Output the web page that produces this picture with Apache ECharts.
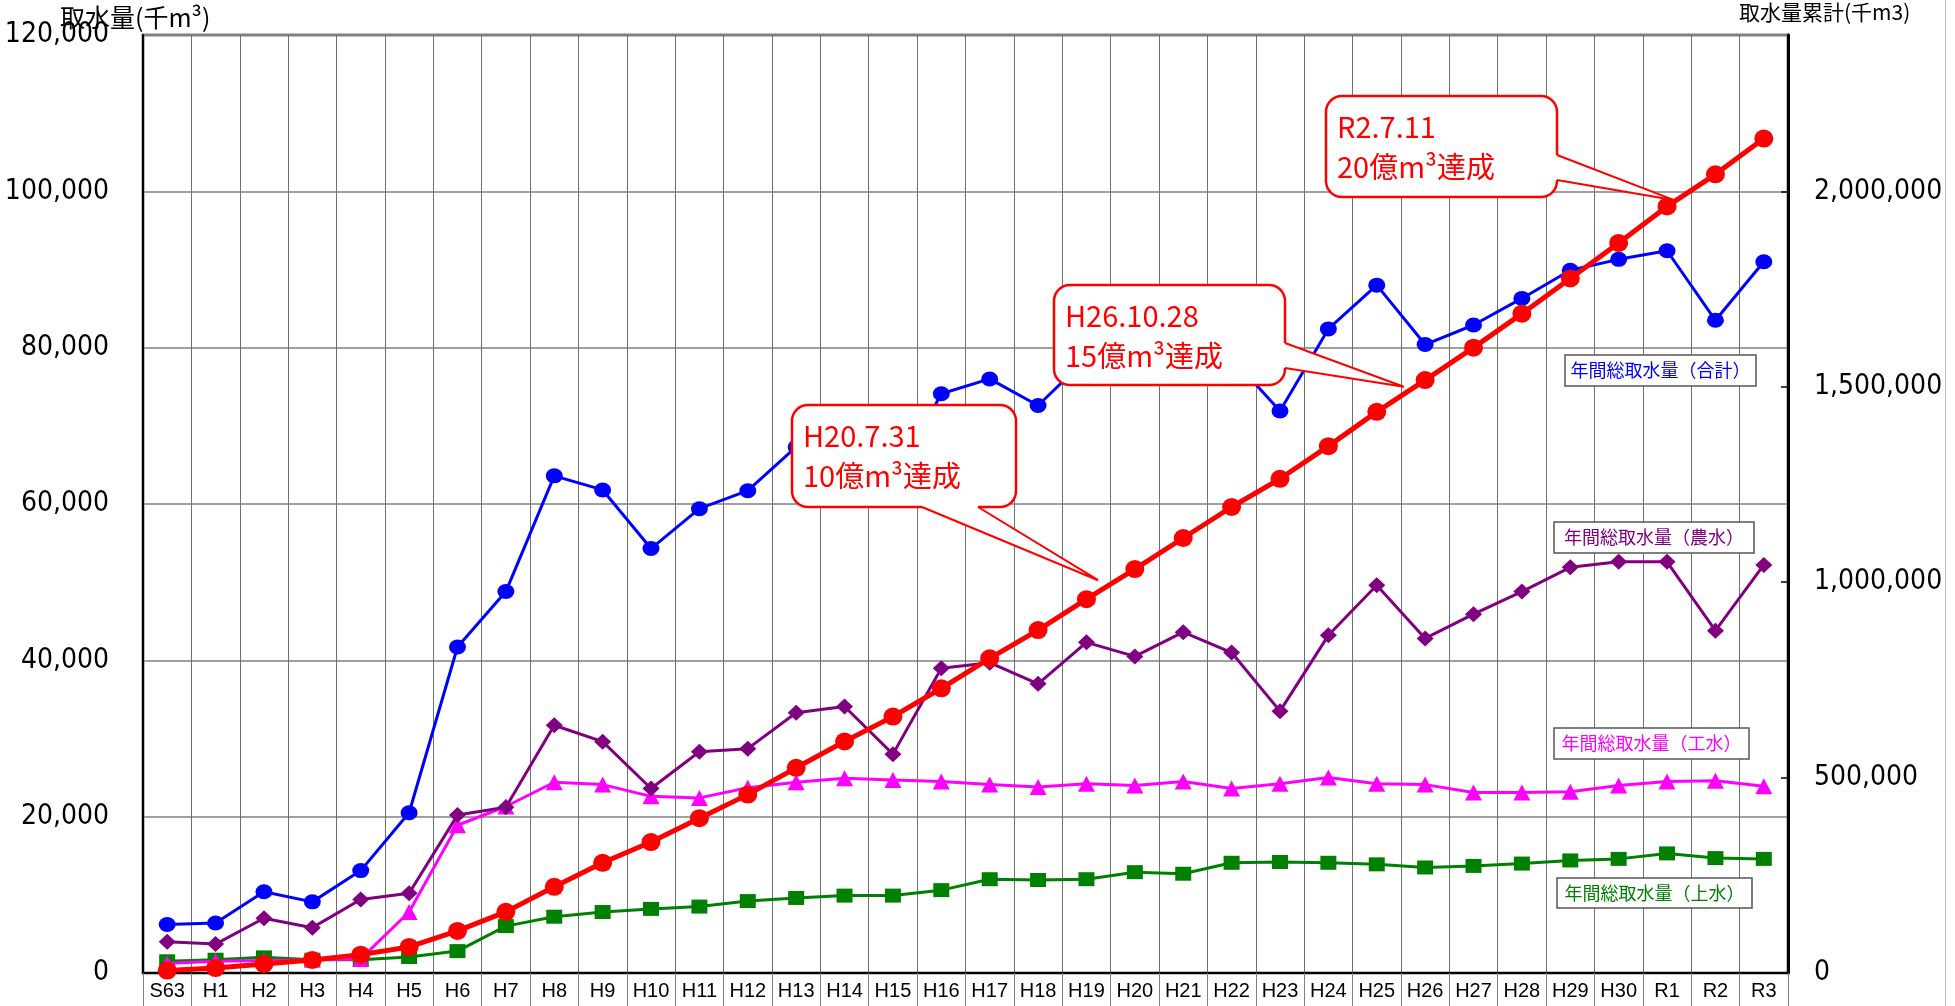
<!DOCTYPE html>
<html>
<head>
<meta charset="utf-8">
<script src="https://cdn.jsdelivr.net/npm/echarts@6/dist/echarts.min.js"></script>
<style>
html, body { margin: 0; padding: 0; background: #fff; }
#chart { width: 1955px; height: 1006px; }
</style>
</head>
<body>
<div id="chart"></div>
<script>
// 年度
var years = ['S63', 'H1', 'H2', 'H3', 'H4', 'H5', 'H6', 'H7', 'H8', 'H9', 'H10',
    'H11', 'H12', 'H13', 'H14', 'H15', 'H16', 'H17', 'H18', 'H19', 'H20',
    'H21', 'H22', 'H23', 'H24', 'H25', 'H26', 'H27', 'H28', 'H29', 'H30',
    'R1', 'R2', 'R3'];

// 年間総取水量(上水) 千m3
var josui = [1500, 1700, 2000, 1700, 1700, 2050, 2800, 6000, 7200, 7800, 8200,
    8500, 9200, 9600, 9900, 9900, 10600, 12000, 11900, 12000, 12900,
    12700, 14100, 14200, 14100, 13900, 13500, 13700, 14000, 14400, 14600,
    15300, 14700, 14600];
// 年間総取水量(工水)
var kousui = [1200, 1500, 1600, 1700, 1800, 7800, 18900, 21300, 24400, 24100, 22600,
    22400, 23700, 24400, 24900, 24700, 24500, 24100, 23800, 24200, 24000,
    24500, 23600, 24200, 25000, 24200, 24100, 23100, 23100, 23200, 24000,
    24500, 24600, 23900];
// 年間総取水量(農水)
var nousui = [4000, 3700, 7000, 5800, 9400, 10200, 20200, 21200, 31700, 29600, 23600,
    28300, 28700, 33300, 34100, 28000, 39000, 39700, 37000, 42300, 40500,
    43600, 41000, 33500, 43200, 49600, 42800, 45900, 48800, 51900, 52600,
    52600, 43800, 52200];
// 年間総取水量(合計)
var goukei = [6200, 6400, 10400, 9100, 13100, 20500, 41700, 48800, 63600, 61800, 54300,
    59400, 61700, 67300, 68800, 62600, 74100, 76000, 72600, 78600, 77400,
    80800, 78700, 71900, 82400, 88000, 80400, 82900, 86300, 89900, 91300,
    92400, 83500, 91000];
// 取水量累計 千m3 (右軸)
var ruikei = [6200, 12600, 23000, 33300, 47000, 66700, 107700, 156400, 220500, 282000, 335000,
    396000, 456400, 525000, 592300, 656000, 728500, 805100, 877500, 956400, 1033500,
    1113000, 1192300, 1264500, 1348000, 1435800, 1517000, 1600000, 1687000, 1777000, 1868000,
    1961500, 2043500, 2135000];

// 吹き出し  [年度位置, 累計値]
var calloutTexts = [['H20.7.31', '10億m³達成'], ['H26.10.28', '15億m³達成'], ['R2.7.11', '20億m³達成']];
var calloutTips = [[19.24, 1005000], [25.56, 1500000], [31.16, 1977000]];

var seriesNames = ['年間総取水量（合計）', '年間総取水量（農水）', '年間総取水量（工水）', '年間総取水量（上水）'];

var NUM_FONT = '"DejaVu Sans Condensed", "Noto Sans CJK JP", sans-serif';
var JP_FONT = '"Noto Sans CJK JP", sans-serif';

function fmt(v) {
    return v.toLocaleString('en-US');
}

var option = {
    animation: false,
    backgroundColor: '#fff',
    grid: {
        left: 143, right: 167, top: 35, bottom: 33,
        show: true, borderColor: '#808080', borderWidth: 3, backgroundColor: '#fff'
    },
    xAxis: {
        type: 'category',
        data: years,
        boundaryGap: true,
        axisLine: { lineStyle: { color: '#000', width: 2 } },
        axisTick: { show: true, interval: 0, length: 33, lineStyle: { color: '#808080', width: 1 } },
        axisLabel: { interval: 0, color: '#000', fontSize: 20, fontFamily: 'Liberation Sans', margin: 8 },
        splitLine: { show: true, interval: 0, lineStyle: { color: '#707070', width: 1 } }
    },
    yAxis: [{
        type: 'value', min: 0, max: 120000, interval: 20000, position: 'left',
        axisLine: { show: true, lineStyle: { color: '#000', width: 2 } },
        axisTick: { show: false },
        axisLabel: { color: '#000', fontSize: 28, fontFamily: NUM_FONT, margin: 34, formatter: fmt },
        splitLine: { lineStyle: { color: '#808080', width: 1.5 } }
    }, {
        type: 'value', min: 0, max: 2400000, interval: 500000, position: 'right',
        axisLine: { show: true, lineStyle: { color: '#000', width: 3 } },
        axisTick: { show: true, inside: true, length: 7, lineStyle: { color: '#000', width: 1.5 } },
        axisLabel: { color: '#000', fontSize: 28, fontFamily: NUM_FONT, margin: 26, formatter: fmt, showMaxLabel: false },
        splitLine: { show: false }
    }],
    series: [{
        name: seriesNames[3], type: 'line', data: josui,
        symbol: 'rect', symbolSize: [16, 14],
        itemStyle: { color: '#008000' }, lineStyle: { color: '#008000', width: 3 }, z: 2
    }, {
        name: seriesNames[2], type: 'line', data: kousui,
        symbol: 'triangle', symbolSize: [17, 16],
        itemStyle: { color: '#ff00ff' }, lineStyle: { color: '#ff00ff', width: 3 }, z: 3
    }, {
        name: seriesNames[1], type: 'line', data: nousui,
        symbol: 'diamond', symbolSize: [17, 16],
        itemStyle: { color: '#800080' }, lineStyle: { color: '#800080', width: 3 }, z: 4
    }, {
        name: seriesNames[0], type: 'line', data: goukei,
        symbol: 'circle', symbolSize: [17, 15],
        itemStyle: { color: '#0000ff' }, lineStyle: { color: '#0000ff', width: 3 }, z: 5
    }, {
        name: '取水量累計', type: 'line', data: ruikei, yAxisIndex: 1,
        symbol: 'circle', symbolSize: [19, 18],
        itemStyle: { color: '#ff0000' }, lineStyle: { color: '#ff0000', width: 5 }, z: 6
    }]
};

var chart = echarts.init(document.getElementById('chart'));
chart.setOption(option);

// 吹き出しの配置 (箱の位置と口の付け根)
var boxes = [
    { x: 792, y: 405, w: 224, h: 102, side: 'bottom', b1: 130, b2: 186 },
    { x: 1054, y: 285, w: 231, h: 100, side: 'right', b1: 58, b2: 83 },
    { x: 1326, y: 96, w: 231, h: 101, side: 'right', b1: 59, b2: 84 }
];
// 系列名ラベル
var nameBoxes = [
    { x: 1565, y: 355, w: 191, h: 31, color: '#0000ff' },
    { x: 1554, y: 522, w: 200, h: 31, color: '#800080' },
    { x: 1554, y: 728, w: 195, h: 31, color: '#ff00ff' },
    { x: 1557, y: 878, w: 195, h: 30, color: '#008000' }
];

function tipPixel(t) {
    var i = Math.floor(t[0]);
    var f = t[0] - i;
    var x0 = chart.convertToPixel({ xAxisIndex: 0 }, i);
    var x1 = chart.convertToPixel({ xAxisIndex: 0 }, i + 1);
    var y = chart.convertToPixel({ yAxisIndex: 1 }, t[1]);
    return [x0 + (x1 - x0) * f, y];
}

var gr = [];
boxes.forEach(function (c, k) {
    var tip = tipPixel(calloutTips[k]);
    var p1, p2, q1, q2;
    if (c.side === 'bottom') {
        p1 = [c.x + c.b1, c.y + c.h]; p2 = [c.x + c.b2, c.y + c.h];
        q1 = [p1[0], p1[1] - 3]; q2 = [p2[0], p2[1] - 3];
    } else {
        p1 = [c.x + c.w, c.y + c.b1]; p2 = [c.x + c.w, c.y + c.b2];
        q1 = [p1[0] - 3, p1[1]]; q2 = [p2[0] - 3, p2[1]];
    }
    gr.push({
        type: 'rect', z: 100,
        shape: { x: c.x, y: c.y, width: c.w, height: c.h, r: 16 },
        style: { fill: '#fff', stroke: '#ff0000', lineWidth: 2.5 }
    });
    gr.push({
        type: 'polygon', z: 101,
        shape: { points: [q1, p1, tip, p2, q2] },
        style: { fill: '#fff' }
    });
    gr.push({
        type: 'polyline', z: 102,
        shape: { points: [p1, tip, p2] },
        style: { stroke: '#ff0000', fill: null, lineWidth: 2 }
    });
    gr.push({
        type: 'text', z: 103, x: c.x + 11, y: c.y + 11,
        style: {
            text: calloutTexts[k].join('\n'),
            fill: '#ff0000', fontSize: 29, fontFamily: JP_FONT, lineHeight: 40,
            verticalAlign: 'top'
        }
    });
});
nameBoxes.forEach(function (b, k) {
    gr.push({
        type: 'rect', z: 90,
        shape: { x: b.x, y: b.y, width: b.w, height: b.h },
        style: { fill: '#fff', stroke: '#555', lineWidth: 1.5 }
    });
    gr.push({
        type: 'text', z: 91, x: b.x + b.w / 2, y: b.y + b.h / 2,
        style: {
            text: seriesNames[k], fill: b.color, fontSize: 18, fontFamily: JP_FONT,
            align: 'center', verticalAlign: 'middle'
        }
    });
});
// 軸タイトル
gr.push({
    type: 'text', x: 60, y: 5, z: 110,
    style: { text: '取水量(千m³)', fill: '#000', fontSize: 25, fontFamily: JP_FONT, verticalAlign: 'top' }
});
gr.push({
    type: 'text', x: 1739, y: 2, z: 110,
    style: { text: '取水量累計(千m3)', fill: '#000', fontSize: 21, fontFamily: JP_FONT, verticalAlign: 'top' }
});
gr.push({
    type: 'line', z: 1,
    shape: { x1: 1945.5, y1: 0, x2: 1945.5, y2: 1006 },
    style: { stroke: '#c0c0c0', lineWidth: 1 }
});

chart.setOption({ graphic: gr });
</script>
</body>
</html>
